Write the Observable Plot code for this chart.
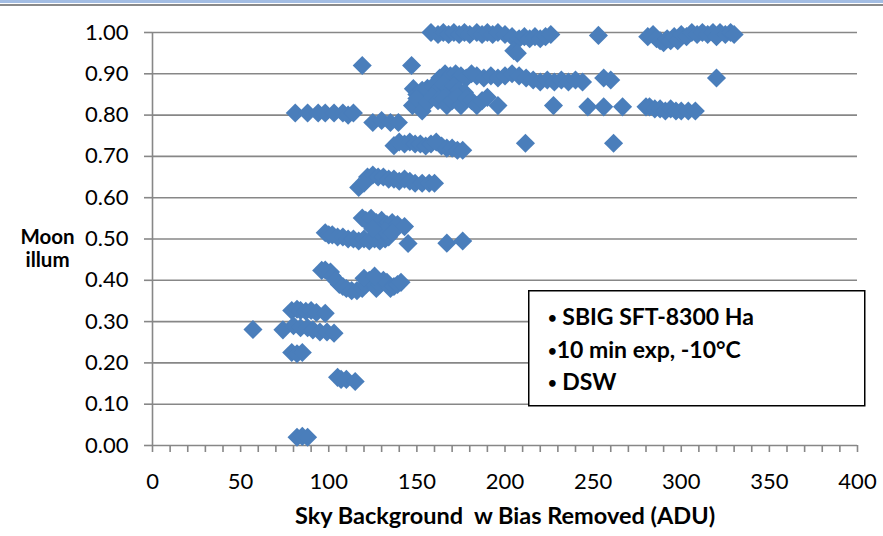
<!DOCTYPE html>
<html>
<head>
<meta charset="utf-8">
<script src="https://cdn.jsdelivr.net/npm/d3@7"></script>
<script src="https://cdn.jsdelivr.net/npm/@observablehq/plot@0.6"></script>
<style>
  body { margin: 0; background: #fff; }
  #wrap { position: relative; width: 883px; height: 536px; overflow: hidden; background: #fff; }
  #wrap svg { display: block; }
  .bar-blue { position: absolute; left: 0; top: 0; width: 883px; height: 3px; background: #a3bde3; }
  .bar-gray { position: absolute; left: 0; top: 4px; width: 883px; height: 2px; background: #8a8a8a; }
  #legend { position: absolute; left: 0; top: 0; pointer-events: none; }
</style>
</head>
<body>
<div id="wrap">
  <div class="bar-blue"></div>
  <div class="bar-gray"></div>
</div>
<script>
// Sky background (ADU, bias removed) vs. fraction of the Moon illuminated,
// grouped into bands of lunar phase. Each entry is [sky ADU, moon illumination].
const fullMoon = [
  [158,1.0],[162,0.995],[165,1.0],[168,0.995],[171,1.0],[174,0.995],[177,1.0],[180,0.995],
  [184,1.0],[187,0.995],[190,1.0],[193,0.995],[196,1.0],[200,0.995],[204,0.99],[208,0.985],
  [211,0.99],[214,0.985],[217,0.99],[220,0.985],[223,0.99],[226,0.995],[205,0.956],[207,0.95],
  [253,0.993],
  [281,0.99],[284,0.995],[286,0.985],[288,0.98],[290,0.975],[292,0.985],[294,0.98],[296,0.99],
  [298,0.98],[300,0.995],[303,0.99],[306,1.0],[309,0.995],[312,1.0],[315,0.995],[318,1.0],
  [320,0.99],[322,1.0],[325,0.995],[328,1.0],[330,0.995]
];

const waxingGibbous = [
  [119,0.92],[147,0.92],
  [163,0.89],[166,0.9],[169,0.895],[172,0.9],[175,0.895],[178,0.89],[181,0.9],[184,0.895],
  [188,0.89],[192,0.895],[196,0.89],[200,0.895],[204,0.9],[208,0.895],[212,0.89],[216,0.885],
  [220,0.88],[224,0.885],[228,0.88],[232,0.885],[236,0.88],[240,0.885],[244,0.88],
  [256,0.89],[260,0.885],[320,0.89],
  [148,0.864],[150,0.85],[153,0.86],[156,0.865],[159,0.87],[162,0.86],[165,0.875],[168,0.865],
  [171,0.87],[174,0.86],[177,0.855]
];

const eightyPercent = [
  [147.5,0.823],[150,0.84],[153,0.81],[156,0.83],[159,0.845],[162,0.835],[165,0.84],[167,0.823],
  [170,0.835],[173,0.845],[175,0.823],[178,0.84],[181,0.835],[184,0.823],[187,0.835],[190,0.843],
  [196,0.823],[227.5,0.823],[247,0.82],[256,0.82],[266.7,0.82],
  [280,0.82],[282,0.82],[285,0.815],[288,0.815],[291,0.81],[294,0.815],[297,0.81],[300,0.81],
  [304,0.81],[308,0.81],
  [81,0.805],[88,0.805],[94,0.805],[98,0.805],[103,0.805],[108,0.805],[111,0.8],[114,0.805],
  [125,0.782],[130,0.787],[135,0.782],[139.5,0.782]
];

const seventyPercent = [
  [137,0.726],[140,0.735],[143,0.73],[146,0.735],[149,0.73],[152,0.73],[155,0.725],[158,0.73],
  [161,0.735],[164,0.725],[167,0.72],[170,0.72],[173,0.715],[176,0.715],
  [211.6,0.732],[261.6,0.732]
];

const sixtyPercent = [
  [117,0.625],[120,0.635],[122,0.65],[125,0.655],[128,0.65],[131,0.65],[134,0.645],[137,0.645],
  [140,0.64],[143,0.645],[146,0.64],[149,0.635],[153,0.635],[157,0.635],[160,0.635]
];

const firstQuarter = [
  [98,0.515],[100,0.51],[102,0.51],[105,0.505],[108,0.505],[111,0.5],[114,0.5],[117,0.495],
  [120,0.5],[123,0.495],[126,0.5],[129,0.495],[132,0.5],[134,0.505],
  [119,0.551],[121,0.545],[124,0.55],[127,0.54],[130,0.545],[133,0.535],[136,0.54],[139,0.535],
  [143,0.53],[128,0.52],[132,0.52],[136,0.515],[125,0.525],
  [145,0.489],[167,0.49],[176,0.495]
];

const fortyPercent = [
  [96,0.424],[98,0.425],[101,0.42],[102,0.41],[104,0.4],[106,0.39],[108,0.385],[110,0.38],
  [113,0.375],[116,0.375],[119,0.38],[121,0.39],[123,0.4],[125,0.395],[127,0.38],[129,0.39],
  [131,0.4],[133,0.395],[135,0.38],[137,0.385],[139,0.39],[141,0.395],[120,0.405],[126,0.41]
];

const crescent = [
  [79,0.327],[82,0.33],[84,0.327],[87,0.325],[90,0.327],[93,0.322],[98,0.32],
  [57,0.281],[74,0.28],[80,0.29],[84,0.285],[88,0.285],[91,0.28],[95,0.275],[99,0.275],[103,0.272],
  [79,0.225],[82,0.222],[85,0.225],
  [105,0.165],[107,0.16],[110,0.16],[115,0.155],
  [82,0.02],[85,0.022],[88,0.02]
];

const xLabelTicks = [0, 50, 100, 150, 200, 250, 300, 350, 400];
const xMinorTicks = d3.range(0, 401, 10);
const yTicks = [0, 0.1, 0.2, 0.3, 0.4, 0.5, 0.6, 0.7, 0.8, 0.9, 1.0];

const xTitle = "Sky Background  w Bias Removed (ADU)";
const yTitle = "Moon\nillum";
// Each note line: bullet, gap after the bullet, text
const notes = [
  ["\u2022", " ", "SBIG SFT-8300 Ha"],
  ["\u2022", "", "10 min exp, -10\u00B0C"],
  ["\u2022", " ", "DSW"]
];

const points = [
  ...fullMoon, ...waxingGibbous, ...eightyPercent, ...seventyPercent,
  ...sixtyPercent, ...firstQuarter, ...fortyPercent, ...crescent
].map(([sky, illum]) => ({sky, illum}));

const gray = "#878787";
const blue = "#4A7EBB";

const chart = Plot.plot({
  width: 883,
  height: 536,
  marginLeft: 152,
  marginRight: 26,
  marginTop: 32,
  marginBottom: 91,
  x: {domain: [0, 400]},
  y: {domain: [0, 1]},
  style: {fontFamily: "Lato, sans-serif", fontSize: "22px", color: "#000", background: "transparent"},
  marks: [
    Plot.gridY(yTicks, {stroke: gray, strokeOpacity: 1, strokeWidth: 1.6}),
    Plot.ruleX([0], {stroke: gray, strokeWidth: 1.6}),
    Plot.axisY(yTicks, {
      tickSize: 8, tickPadding: 16, tickFormat: d3.format(".2f"),
      stroke: gray, strokeWidth: 1.6, label: null, fontSize: 22
    }),
    Plot.axisX(xMinorTicks, {tickSize: 7, tickFormat: () => "", stroke: gray, strokeWidth: 1.6, label: null}),
    Plot.axisX(xLabelTicks, {tickSize: 0, tickPadding: 28, label: null, fontSize: 22}),
    Plot.dot(points, {x: "sky", y: "illum", symbol: "diamond2", r: 8.6, fill: blue}),
    Plot.text([xTitle], {frameAnchor: "bottom", dy: 78, fontWeight: "bold", fontSize: 23.5}),
    Plot.text([yTitle], {frameAnchor: "left", dx: -105, dy: 9, fontWeight: "bold", fontSize: 20.5, lineHeight: 1.1, textAnchor: "middle"})
  ]
});

const wrap = document.getElementById("wrap");
wrap.insertBefore(chart, wrap.firstChild);

// Annotation box with the instrument notes
const legend = d3.select(wrap).append("svg")
  .attr("id", "legend").attr("width", 883).attr("height", 536);
legend.append("rect")
  .attr("x", 528.75).attr("y", 290.75).attr("width", 336).attr("height", 115)
  .attr("fill", "#fff").attr("stroke", "#000").attr("stroke-width", 1.5);
const lines = legend.selectAll("text.note").data(notes).join("text")
  .attr("class", "note")
  .attr("x", 548).attr("y", (d, i) => 325 + i * 32.5)
  .attr("font-family", "Lato, sans-serif").attr("font-weight", "bold").attr("font-size", 23);
lines.append("tspan").attr("font-size", 15).attr("dy", -2).text(d => d[0]);
lines.append("tspan").attr("dy", 2).text(d => d[1] + d[2]).attr("xml:space", "preserve")
  .style("white-space", "pre");
</script>
</body>
</html>
